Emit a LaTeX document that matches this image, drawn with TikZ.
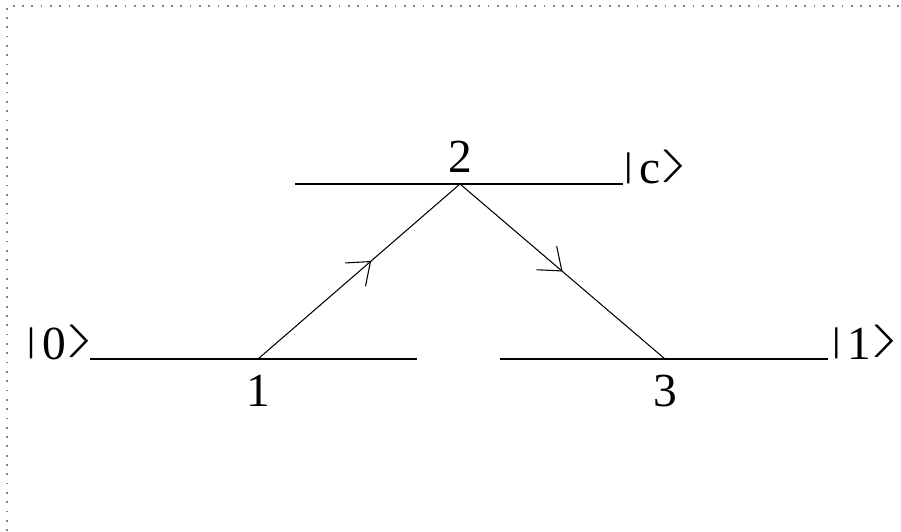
\documentclass[tikz,border=0pt]{standalone}
\usepackage{fontspec}
\setmainfont{Liberation Serif}
\usepackage{graphicx}
\usepackage{tikz}
\usetikzlibrary{positioning,arrows.meta,decorations.markings}

\newcommand{\ketlbl}[1]{\raisebox{0.15em}{\scalebox{1}[0.72]{|}}\hspace{0.14em}#1\hspace{0.05em}%
  \raisebox{0.19em}{\makebox[0.44em][l]{\hspace{-0.07em}\scalebox{1.9}[0.75]{$\rangle$}}}}

\begin{document}
\begin{tikzpicture}[x=0.02cm, y=0.02cm, line width=0.6pt,
    lvl/.style={line width=0.7pt},
    frame/.style={gray, line width=1pt, dash pattern=on 1pt off 4.3pt},
    num/.style={font=\fontsize{27}{32}\selectfont, inner sep=0pt},
    ket/.style={font=\fontsize{27}{32}\selectfont, inner sep=0pt},
    jump/.style={postaction={decorate}, decoration={markings,
      mark=at position #1 with {\arrow{Straight Barb[length=0.4cm, width=0.62cm]}}}}]
  \useasboundingbox (0,0) rectangle (901,531);
  % dotted frame, top and left only
  \coordinate (fbl) at (7,0);
  \coordinate (ftl) at (7,525);
  \coordinate (ftr) at (901,525);
  \draw[frame] (fbl) -- (ftl) -- (ftr);

  % levels
  \coordinate (g0a) at (90,172);
  \coordinate (g0b) at (417,172);
  \coordinate (g1a) at (500,172);
  \coordinate (g1b) at (828,172);
  \coordinate (ca) at (295,347);
  \coordinate (cb) at (623,347);
  \draw[lvl] (g0a) -- (g0b);
  \draw[lvl] (g1a) -- (g1b);
  \draw[lvl] (ca) -- (cb);

  % path points
  \coordinate (p1) at (258,172);
  \coordinate (p2) at (460,347);
  \coordinate (p3) at (665,172);
  \draw[jump=0.56] (p1) -- (p2);
  \draw[jump=0.5] (p2) -- (p3);

  % labels
  \node[ket, anchor=base east] (k0) at (g0a) {\ketlbl{0}};
  \node[ket, anchor=base west] (kc) at (cb) {\ketlbl{c}};
  \node[ket, anchor=base west, xshift=0.06cm] (k1) at (g1b) {\ketlbl{1}};
  \node[num, below=0.32cm of p1] (n1) {1};
  \node[num, above=0.22cm of p2] (n2) {2};
  \node[num, below=0.32cm of p3] (n3) {3};
\end{tikzpicture}
\end{document}
